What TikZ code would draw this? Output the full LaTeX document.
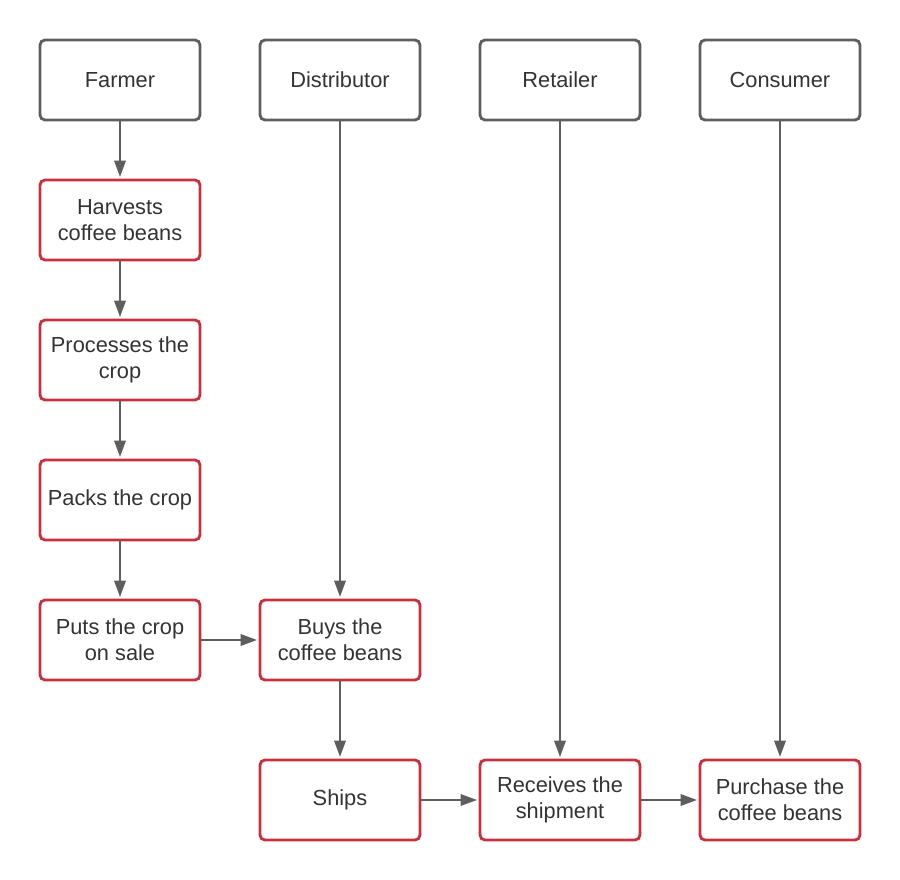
\documentclass[tikz,border=0pt]{standalone}
\usepackage{fontspec}
\setmainfont{Liberation Sans}
\usepackage{xcolor}
\usepackage{tikz}
\usetikzlibrary{
  arrows.meta,
  positioning
}
\definecolor{cinza}{HTML}{5E5E5E}
\definecolor{vermelho}{HTML}{C8303C}
\definecolor{texto}{HTML}{333333}

\begin{document}
\begin{tikzpicture}[
    ator/.style={
    draw=cinza,
    rounded corners=0.1cm,
    minimum width=3.2cm,
    minimum height=1.6cm,
    outer sep=0pt,
    align=center,
    line width=1.6pt,
    text=texto,
    font=\fontsize{12.4}{14.8}\selectfont
    },
    passo/.style={
    ator,
    draw=vermelho
    },
    seta/.style={-{Triangle[length=0.33cm,width=0.23cm]},line width=1.2pt,draw=cinza,shorten >=0.06cm}
    ]
    
    \useasboundingbox (0,0) rectangle (18,-17.6);
    
    \node[ator] (farmer) at (2.4,-1.6)
    {Farmer};
    
    \node[ator,right=1.2cm of farmer]
    (distributor){Distributor};
    
    \node[ator,right=1.2cm of distributor]
    (retailer){Retailer};
    
    \node[ator,right=1.2cm of retailer]
    (consumer){Consumer};
    
    \node[passo,below=1.2cm of farmer]
    (harvests){Harvests\\coffee beans};
    
    \node[passo,below=1.2cm of harvests]
    (processes){Processes the\\crop};
    
    \node[passo,below=1.2cm of processes]
    (packs){Packs the crop};
    
    \node[passo,below=1.2cm of packs]
    (sale){Puts the crop\\on sale};
    
    \node[passo,right=1.2cm of sale]
    (buys){Buys the\\coffee beans};
    
    \node[passo,below=1.6cm of buys]
    (ships){Ships};
    
    \node[passo,right=1.2cm of ships]
    (receives){Receives the\\shipment};
    
    \node[passo,right=1.2cm of receives]
    (purchase){Purchase the\\coffee beans};
    
    \draw[seta](farmer)--(harvests);
    \draw[seta](harvests)--(processes);
    \draw[seta](processes)--(packs);
    \draw[seta](packs)--(sale);
    \draw[seta](sale)--(buys);
    \draw[seta](distributor)--(buys);
    \draw[seta](buys)--(ships);
    \draw[seta](ships)--(receives);
    \draw[seta](retailer)--(receives);
    \draw[seta](receives)--(purchase);
    \draw[seta](consumer)--(purchase);
    
    \end{tikzpicture}
\end{document}
